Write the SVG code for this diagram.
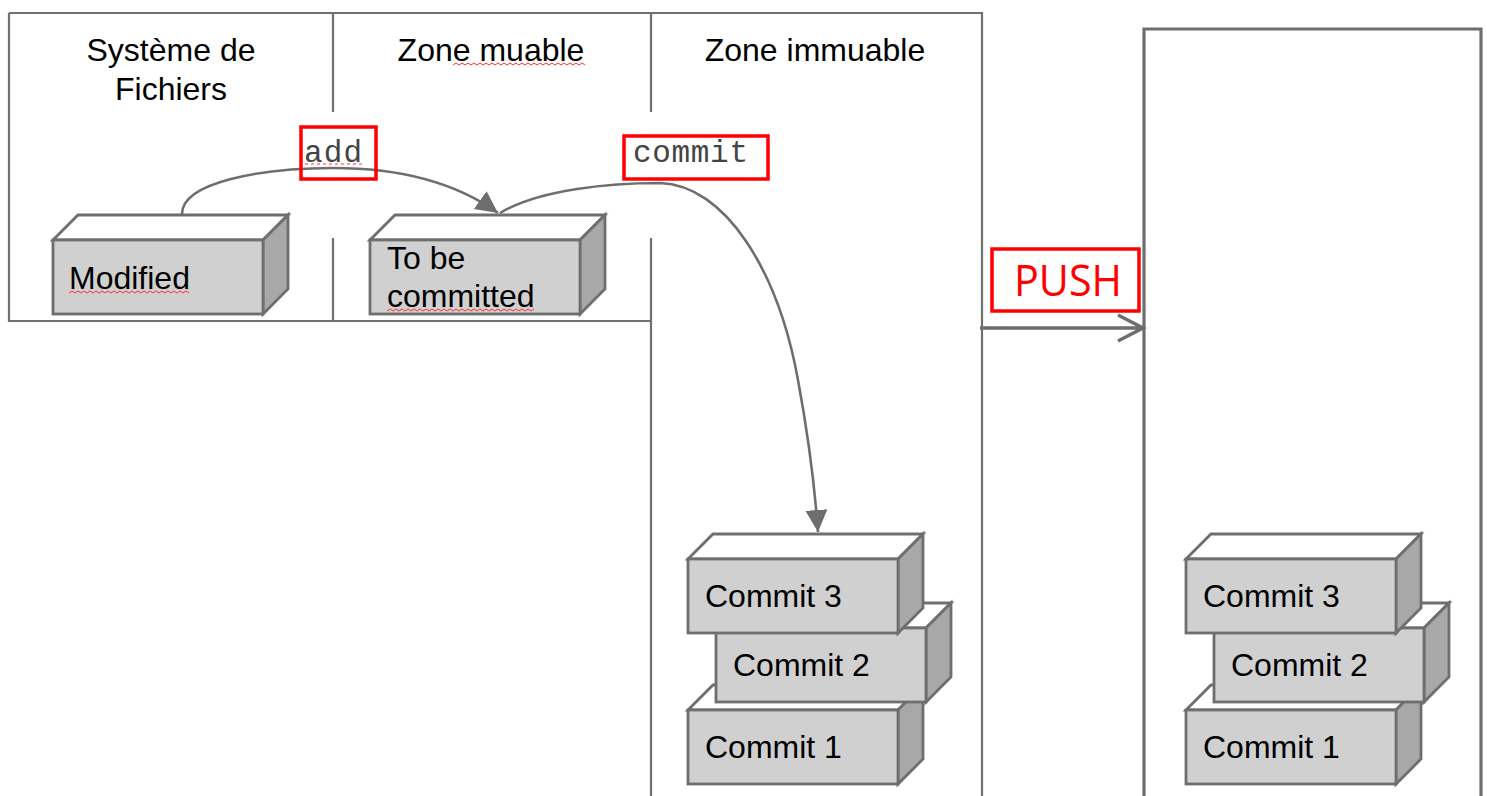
<svg xmlns="http://www.w3.org/2000/svg" xmlns:xlink="http://www.w3.org/1999/xlink" width="1487" height="796" viewBox="0 0 1487 796">
<style>
.frame{fill:none;stroke:#707070;stroke-width:2.2}
.frame2{fill:none;stroke:#6e6e6e;stroke-width:3.2}
.conn{fill:none;stroke:#6e6e6e;stroke-width:2.6}
.lbl{font-family:"Liberation Sans",Arial,sans-serif;font-size:32px;fill:#000}
.mono{font-family:"Liberation Mono","Courier New",monospace;font-size:31px;fill:#444}
.redbox{fill:none;stroke:#ff0000;stroke-width:3.5}
.sq{fill:none;stroke:#ff3030;stroke-width:1}
.front{fill:#d0d0d0;stroke:#6e6e6e;stroke-width:2.8;stroke-linejoin:miter}
.top{fill:#ffffff;stroke:#6e6e6e;stroke-width:2.8}
.side{fill:#a8a8a8;stroke:#6e6e6e;stroke-width:2.8}
</style>
<defs>
<g id="cube">
<polygon class="top" points="0,0 25,-25 235,-25 210,0"/>
<polygon class="side" points="210,0 235,-25 235,49 210,74"/>
<rect class="front" x="0" y="0" width="210" height="74"/>
</g>
<marker id="tri" markerUnits="userSpaceOnUse" markerWidth="24" markerHeight="22" refX="22" refY="11" orient="auto">
<path d="M0,0 L22,11 L0,22 Z" fill="#6e6e6e"/>
</marker>
</defs>
<rect width="1487" height="796" fill="#ffffff"/>

<g id="frames">
<path class="frame" d="M9,13 H982 V796 M9,13 V321 H651 M333,13 V112 M333,238 V321 M651,13 V112 M651,238 V796"/>
<path class="frame2" d="M1144,796 V29 H1481 V796"/>
</g>

<g id="headers">
<text class="lbl" x="171" y="61" text-anchor="middle">Système de</text>
<text class="lbl" x="171" y="100" text-anchor="middle">Fichiers</text>
<text class="lbl" x="491" y="61" text-anchor="middle">Zone muable</text>
<text class="lbl" x="815" y="61" text-anchor="middle">Zone immuable</text>
<path class="sq" d="M453,65 l3,-2 l3,2 l3,-2 l3,2 l3,-2 l3,2 l3,-2 l3,2 l3,-2 l3,2 l3,-2 l3,2 l3,-2 l3,2 l3,-2 l3,2 l3,-2 l3,2 l3,-2 l3,2 l3,-2 l3,2 l3,-2 l3,2 l3,-2 l3,2 l3,-2 l3,2 l3,-2 l3,2 l3,-2 l3,2 l3,-2 l3,2 l3,-2 l3,2 l3,-2 l3,2 l3,-2 l3,2 l3,-2 l3,2 l3,-2 l3,2"/>
</g>

<g id="connectors">
<path class="conn" d="M182,214 C182,182 262,168 333,168 C400,168 455,182 498,213" marker-end="url(#tri)"/>
<path class="conn" d="M500,213 C540,189 612,183 660,183 C725,185 778,270 798,380 C810,445 815,490 818,532" marker-end="url(#tri)"/>
<path d="M980,328 H1143 M1118,315 L1143,328 L1118,341" fill="none" stroke="#6e6e6e" stroke-width="3.5"/>
</g>

<g id="node-modified">
<use xlink:href="#cube" x="53" y="240"/>
<text class="lbl" x="69" y="289">Modified</text>
<path class="sq" d="M69,293 l3,-2 l3,2 l3,-2 l3,2 l3,-2 l3,2 l3,-2 l3,2 l3,-2 l3,2 l3,-2 l3,2 l3,-2 l3,2 l3,-2 l3,2 l3,-2 l3,2 l3,-2 l3,2 l3,-2 l3,2 l3,-2 l3,2 l3,-2 l3,2 l3,-2 l3,2 l3,-2 l3,2 l3,-2 l3,2 l3,-2 l3,2 l3,-2 l3,2 l3,-2 l3,2 l3,-2 l3,2"/>
</g>

<g id="node-tobe">
<use xlink:href="#cube" x="370" y="240"/>
<text class="lbl" x="387" y="269">To be</text>
<text class="lbl" x="387" y="307">committed</text>
<path class="sq" d="M387,311 l3,-2 l3,2 l3,-2 l3,2 l3,-2 l3,2 l3,-2 l3,2 l3,-2 l3,2 l3,-2 l3,2 l3,-2 l3,2 l3,-2 l3,2 l3,-2 l3,2 l3,-2 l3,2 l3,-2 l3,2 l3,-2 l3,2 l3,-2 l3,2 l3,-2 l3,2 l3,-2 l3,2 l3,-2 l3,2 l3,-2 l3,2 l3,-2 l3,2 l3,-2 l3,2 l3,-2 l3,2 l3,-2 l3,2 l3,-2 l3,2 l3,-2 l3,2 l3,-2 l3,2 l3,-2"/>
</g>

<g id="label-add">
<rect class="redbox" x="301" y="127" width="75" height="52"/>
<text class="mono" x="304" y="162" textLength="58">add</text>
<path d="M305,164 H362" stroke="#ff3030" stroke-width="1" stroke-dasharray="3,3"/>
</g>

<g id="label-commit">
<rect class="redbox" x="624" y="136" width="144" height="43"/>
<text class="mono" x="633" y="162" textLength="115">commit</text>
</g>

<g id="label-push">
<rect class="redbox" x="992" y="249" width="147" height="62"/>
<text x="1014" y="296" font-family="'Open Sans','Liberation Sans',sans-serif" font-size="43" fill="#ff0000" textLength="108" lengthAdjust="spacingAndGlyphs">PUSH</text>
</g>

<g id="node-local-commit1">
<use xlink:href="#cube" x="688" y="710"/>
<text class="lbl" x="705" y="758">Commit 1</text>
</g>
<g id="node-local-commit2">
<use xlink:href="#cube" x="716" y="628"/>
<text class="lbl" x="733" y="676">Commit 2</text>
</g>
<g id="node-local-commit3">
<use xlink:href="#cube" x="688" y="559"/>
<text class="lbl" x="705" y="607">Commit 3</text>
</g>

<g id="node-remote-commit1">
<use xlink:href="#cube" x="1186" y="710"/>
<text class="lbl" x="1203" y="758">Commit 1</text>
</g>
<g id="node-remote-commit2">
<use xlink:href="#cube" x="1214" y="628"/>
<text class="lbl" x="1231" y="676">Commit 2</text>
</g>
<g id="node-remote-commit3">
<use xlink:href="#cube" x="1186" y="559"/>
<text class="lbl" x="1203" y="607">Commit 3</text>
</g>
</svg>
